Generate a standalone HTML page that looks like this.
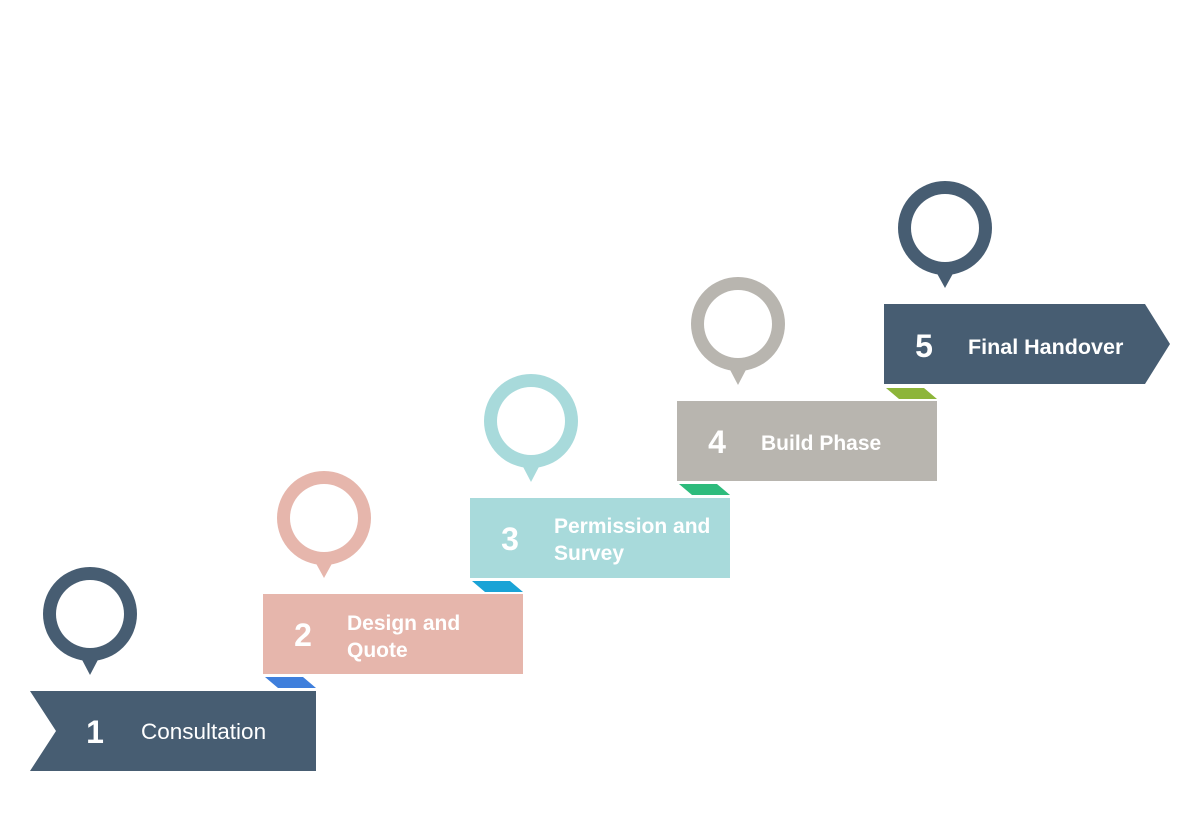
<!DOCTYPE html>
<html><head><meta charset="utf-8"><style>
html,body{margin:0;padding:0;background:#fff;}
svg{display:block;}
text{font-family:"Liberation Sans",sans-serif;fill:#fff;}
.n{font-size:32px;font-weight:bold;text-anchor:middle;}
.l{font-size:21px;font-weight:bold;}
</style></head><body>
<svg width="1200" height="828" viewBox="0 0 1200 828" xmlns="http://www.w3.org/2000/svg">
<polygon points="265,677 303,677 316,688 278,688" fill="#3f7fdc"/>
<polygon points="472,581 510,581 523,592 485,592" fill="#1aa3d6"/>
<polygon points="679,484 717,484 730,495 692,495" fill="#2dbb7c"/>
<polygon points="886,388 924,388 937,399 899,399" fill="#8db53a"/>

<polygon points="30,691 316,691 316,771 30,771 56,731" fill="#475d72"/>
<rect x="263" y="594" width="260" height="80" fill="#e6b6ac"/>
<rect x="470" y="498" width="260" height="80" fill="#a8dadb"/>
<rect x="677" y="401" width="260" height="80" fill="#b8b5af"/>
<polygon points="884,304 1145,304 1170,344 1145,384 884,384" fill="#475d72"/>

<g fill="#475d72"><circle cx="90" cy="614" r="47"/><polygon points="79,654 101,654 90,675"/></g>
<circle cx="90" cy="614" r="34" fill="#fff"/>
<g fill="#e6b6ac"><circle cx="324" cy="518" r="47"/><polygon points="313,558 335,558 324,578"/></g>
<circle cx="324" cy="518" r="34" fill="#fff"/>
<g fill="#a8dadb"><circle cx="531" cy="421" r="47"/><polygon points="520,461 542,461 531,482"/></g>
<circle cx="531" cy="421" r="34" fill="#fff"/>
<g fill="#b8b5af"><circle cx="738" cy="324" r="47"/><polygon points="727,364 749,364 738,385"/></g>
<circle cx="738" cy="324" r="34" fill="#fff"/>
<g fill="#475d72"><circle cx="945" cy="228" r="47"/><polygon points="934,268 956,268 945,288"/></g>
<circle cx="945" cy="228" r="34" fill="#fff"/>

<text class="n" x="95" y="743">1</text>
<text x="141" y="739" style="font-size:22.5px">Consultation</text>
<text class="n" x="303" y="646">2</text>
<text class="l" x="347" y="630">Design and</text>
<text class="l" x="347" y="657">Quote</text>
<text class="n" x="510" y="550">3</text>
<text class="l" x="554" y="533">Permission and</text>
<text class="l" x="554" y="560">Survey</text>
<text class="n" x="717" y="453">4</text>
<text class="l" x="761" y="450">Build Phase</text>
<text class="n" x="924" y="357">5</text>
<text class="l" x="968" y="354" style="font-size:21.5px">Final Handover</text>
</svg>
</body></html>
